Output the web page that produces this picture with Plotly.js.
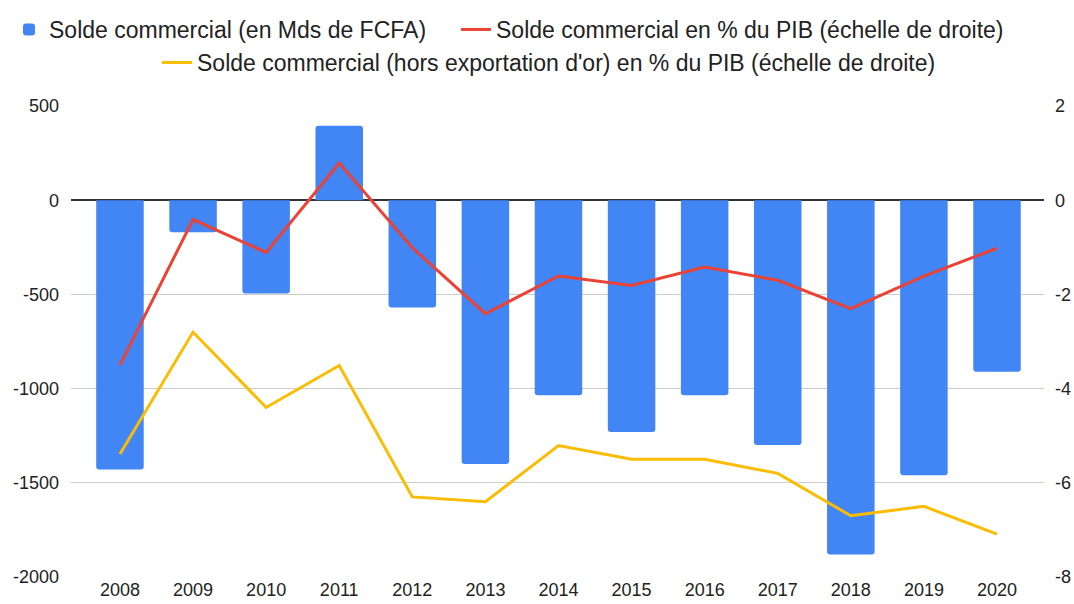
<!DOCTYPE html>
<html>
<head>
<meta charset="utf-8">
<script src="https://cdn.plot.ly/plotly-3.0.1.min.js"></script>
<style>
  html, body { margin: 0; padding: 0; background: #fff; }
  #chart { width: 1074px; height: 604px; }
</style>
</head>
<body>
<div id="chart"></div>
<script>
const years = ['2008','2009','2010','2011','2012','2013','2014','2015','2016','2017','2018','2019','2020'];
const soldeMds = [-1430, -170, -495, 395, -570, -1400, -1035, -1230, -1035, -1300, -1880, -1460, -910];
const soldePctPIB = [-3.50, -0.41, -1.11, 0.79, -1.01, -2.41, -1.61, -1.81, -1.42, -1.70, -2.30, -1.61, -1.02];
const soldeHorsOrPctPIB = [-5.39, -2.80, -4.40, -3.51, -6.30, -6.40, -5.21, -5.50, -5.50, -5.80, -6.70, -6.50, -7.09];
const leftTicks = [500, 0, -500, -1000, -1500, -2000];
const rightTicks = [2, 0, -2, -4, -6, -8];

const names = [
  'Solde commercial (en Mds de FCFA)',
  'Solde commercial en % du PIB (échelle de droite)',
  "Solde commercial (hors exportation d'or) en % du PIB (échelle de droite)"
];

const traces = [
  {
    type: 'bar', x: years, y: soldeMds, name: names[0],
    marker: { color: '#4285F4', cornerradius: 3 },
    legend: 'legend'
  },
  {
    type: 'scatter', mode: 'lines', x: years, y: soldePctPIB, name: names[1],
    yaxis: 'y2', line: { color: '#EA4335', width: 3 }, legend: 'legend2'
  },
  {
    type: 'scatter', mode: 'lines', x: years, y: soldeHorsOrPctPIB, name: names[2],
    yaxis: 'y2', line: { color: '#FBBC04', width: 3 }, legend: 'legend3'
  }
];

const fam = 'Liberation Sans, Arial, sans-serif';
const legFont = { family: fam, size: 23, color: '#222' };
function leg(x, y) {
  return {
    orientation: 'h', xref: 'container', yref: 'container',
    x: x, xanchor: 'left', y: y, yanchor: 'top',
    font: legFont, bgcolor: 'rgba(0,0,0,0)', borderwidth: 0
  };
}

const layout = {
  width: 1074, height: 604,
  margin: { l: 71, r: 30, t: 106, b: 27, autoexpand: false },
  paper_bgcolor: '#fff', plot_bgcolor: '#fff',
  font: { family: fam, color: '#222' },
  bargap: 0.35,
  showlegend: true,
  legend: leg(9 / 1074, 1 - 8 / 604),
  legend2: leg(456 / 1074, 1 - 8 / 604),
  legend3: leg(157 / 1074, 1 - 41 / 604),
  xaxis: {
    type: 'category', range: [-0.670, 12.643], automargin: false,
    showgrid: false, zeroline: false, showline: false,
    ticks: '', tickfont: { size: 18, color: '#222' },
    ticklabelstandoff: 0
  },
  yaxis: {
    range: [-2000, 500], tickvals: leftTicks, ticktext: leftTicks.map(String),
    automargin: false,
    showgrid: true, gridcolor: '#cccccc', gridwidth: 1,
    zeroline: true, zerolinecolor: '#333333', zerolinewidth: 2,
    showline: false, ticks: '', tickfont: { size: 18, color: '#222' },
    ticklabelstandoff: 11
  },
  yaxis2: {
    overlaying: 'y', side: 'right', automargin: false,
    range: [-8, 2], tickvals: rightTicks, ticktext: rightTicks.map(String),
    showgrid: false, zeroline: false, showline: false,
    ticks: '', tickfont: { size: 18, color: '#222' },
    ticklabelstandoff: 10
  }
};

Plotly.newPlot('chart', traces, layout, { displayModeBar: false, staticPlot: true });
</script>
</body>
</html>
